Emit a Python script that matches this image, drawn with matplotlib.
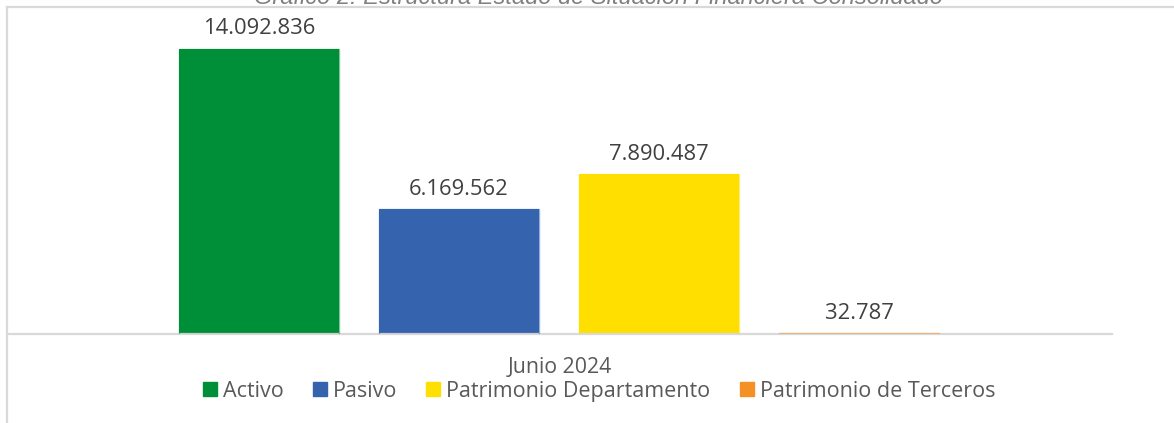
import matplotlib
matplotlib.use("Agg")
import matplotlib.pyplot as plt
import matplotlib.patches as mpatches
from matplotlib.lines import Line2D

# ── data ──────────────────────────────────────────────────────────────────
categories = ["Activo", "Pasivo", "Patrimonio Departamento", "Patrimonio de Terceros"]
values     = [14092836, 6169562, 7890487, 32787]
colors     = ["#008F39", "#3563AD", "#FFDF00", "#F39124"]
group_lbl  = "Junio 2024"
title      = "Gráfico 2: Estructura Estado de Situación Financiera Consolidado"

TEXT_CLR = "#595959"
GRID_CLR = "#D9D9D9"
FONT     = ["Open Sans", "DejaVu Sans"]

W, H = 1174, 423
fig = plt.figure(figsize=(W / 100, H / 100), dpi=100, facecolor="white")
ax = fig.add_axes([8 / W, 89 / H, (1112 - 8) / W, (334 - 7) / H])

x = list(range(len(values)))
ax.bar(x, values, width=0.8, color=colors, zorder=2)
# hair-thin bars still get a visible sliver, as in the source chart
ax.bar(x, values, width=0.8, color="none", edgecolor=colors, linewidth=1.0,
       alpha=0.5, zorder=3)
ax.set_xlim(-1.255, 4.265)
ax.set_ylim(0, max(values) * 327 / 285)

for xi, v in zip(x, values):
    ax.annotate(f"{v:,}".replace(",", "."), (xi, v), xytext=(0, 7),
                textcoords="offset points", ha="center", va="bottom",
                fontsize=15.8, color="#404040", family=FONT)

for s in ["top", "right", "left"]:
    ax.spines[s].set_visible(False)
ax.spines["bottom"].set_color(GRID_CLR)
ax.spines["bottom"].set_linewidth(1.6)
ax.set_yticks([])
ax.set_xticks([])

# chart frame (top and left edges of the chart area)
fig.add_artist(Line2D([7 / W, 1], [1 - 7 / H, 1 - 7 / H], color=GRID_CLR, lw=1.6))
fig.add_artist(Line2D([7 / W, 7 / W], [0, 1 - 7 / H], color=GRID_CLR, lw=1.6))

# title, partly cut by the top edge
fig.text(598 / W, 1 - 4 / H, title, ha="center", va="baseline",
         fontsize=17, color="#808080", style="italic",
         family=["Liberation Sans", "DejaVu Sans"])

# category label
fig.text(560 / W, 1 - 373 / H, group_lbl, ha="center", va="baseline",
         fontsize=15.3, color=TEXT_CLR, family=FONT)

handles = [mpatches.Patch(color=c, label=l) for c, l in zip(colors, categories)]
fig.legend(handles=handles, loc="center", bbox_to_anchor=(599 / W, 1 - 391 / H),
           ncol=4, frameon=False, handlelength=0.65, handleheight=0.65,
           handletextpad=0.28, columnspacing=1.36, borderpad=0,
           prop={"family": FONT, "size": 15.5}, labelcolor=TEXT_CLR)

fig.savefig("out.png", dpi=100, facecolor="white")
